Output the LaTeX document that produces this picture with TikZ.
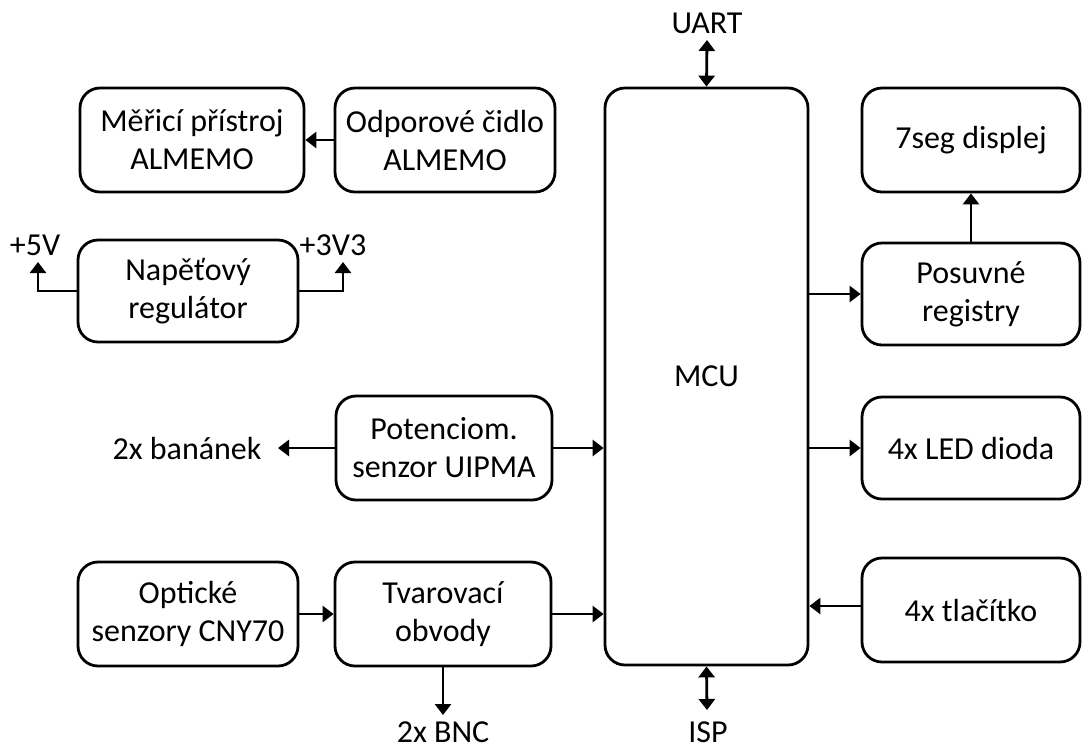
\documentclass[tikz,border=0pt]{standalone}
\usepackage{fontspec}
\setmainfont{Carlito}
\usetikzlibrary{arrows.meta}
\begin{document}
\begin{tikzpicture}[x=0.5pt,y=-0.5pt,
    font=\fontsize{16}{19}\selectfont,
    blok/.style={draw=black, line width=1.4pt, rounded corners=10pt,
        minimum width=110pt, minimum height=52pt, align=center, inner sep=0pt},
    popis/.style={inner sep=0pt},
    spoj/.style={line width=1.4pt, -{Triangle[width=8pt,length=5.5pt]}},
    oboj/.style={line width=1.4pt, {Triangle[width=8pt,length=5.5pt]}-{Triangle[width=8pt,length=5.5pt]}}]
    \useasboundingbox (0,0) rectangle (1083,752);
    % bloky
    \node [blok, minimum width=112pt] (meric) at (192,140) {Měřicí přístroj\\ALMEMO};
    \node [blok] (cidlo) at (445,140) {Odporové čidlo\\ALMEMO};
    \node [blok, minimum height=51pt] (regul) at (188,291) {Napěťový\\regulátor};
    \node [blok, minimum width=108pt] (poten) at (444,448) {Potenciom.\\senzor UIPMA};
    \node [blok] (optic) at (188,614) {Optické\\senzory CNY70};
    \node [blok, minimum width=108pt] (tvar) at (443,614) {Tvarovací\\obvody};
    \node [blok, minimum width=101.5pt, minimum height=288.5pt] (mcu) at (706.5,376.5) {MCU};
    \node [blok, minimum width=109pt] (disp) at (971,140) {7seg displej};
    \node [blok, minimum width=109pt, minimum height=51pt] (posuv) at (971,294) {Posuvné\\registry};
    \node [blok, minimum width=109pt, minimum height=51pt] (led) at (971,448) {4x LED dioda};
    \node [blok, minimum width=109pt] (tlac) at (971,610) {4x tlačítko};
    % popisky
    \node [popis] (uart) at (707,23) {UART};
    \node [popis] (isp) at (708,732) {ISP};
    \node [popis] (bnc) at (443,732) {2x BNC};
    \node [popis] (banan) at (187,448) {2x banánek};
    \node [popis] (p5v) at (35,245) {+5V};
    \node [popis] (p3v) at (333,245) {+3V3};
    \coordinate (k5v) at (38,262);
    \coordinate (k3v) at (343,262);
    \coordinate (kuart) at (707,40);
    \coordinate (kisp) at (707,710);
    \coordinate (kbnc) at (443,715);
    \coordinate (kbanan) at (278,448);
    \coordinate (ktlac) at (862,606);
    % spoje
    \draw [spoj] (cidlo) -- (meric);
    \draw [spoj] (regul.west) -| (k5v);
    \draw [spoj] (regul.east) -| (k3v);
    \draw [spoj] (poten) -- (kbanan);
    \draw [spoj] (poten.east) -- (poten.east -| mcu.west);
    \draw [spoj] (optic) -- (tvar);
    \draw [spoj] (tvar.east) -- (tvar.east -| mcu.west);
    \draw [spoj] (tvar.south) -- (kbnc);
    \draw [oboj] (mcu.south) -- (kisp);
    \draw [oboj] (mcu.north) -- (kuart);
    \draw [spoj] (mcu.east |- posuv.west) -- (posuv.west);
    \draw [spoj] (posuv.north) -- (disp.south);
    \draw [spoj] (mcu.east |- led.west) -- (led.west);
    \draw [spoj] (ktlac) -- (mcu.east |- ktlac);
\end{tikzpicture}
\end{document}
